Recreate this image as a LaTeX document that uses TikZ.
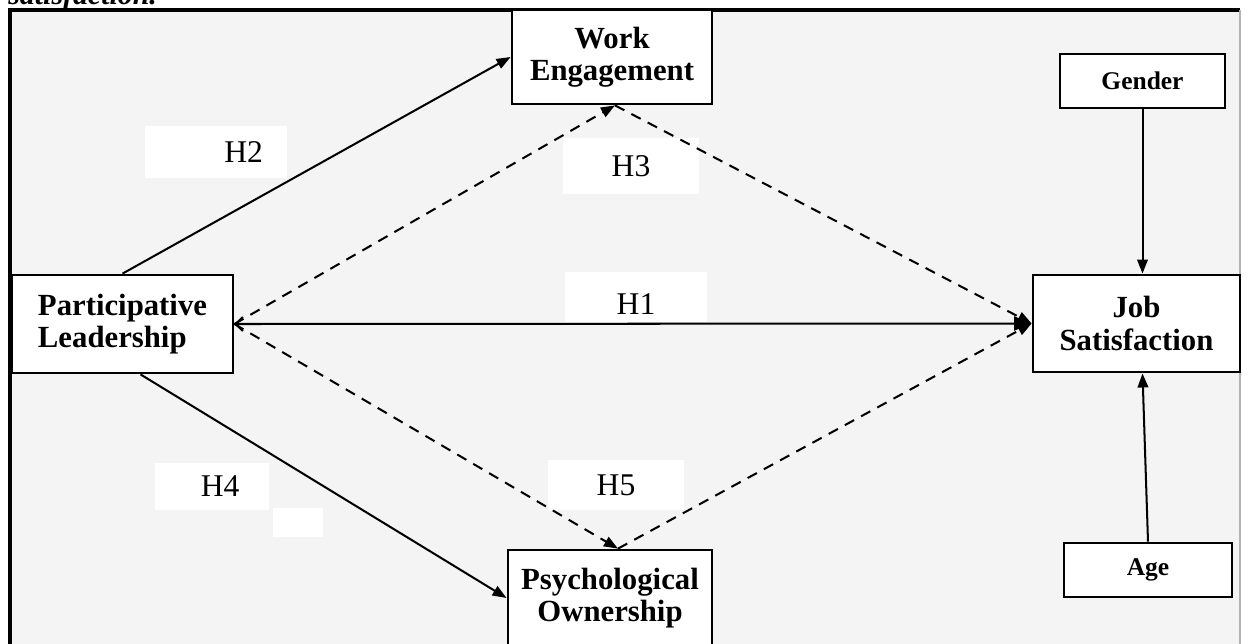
\documentclass[tikz,border=0pt]{standalone}
\usepackage{fontspec}
\setmainfont{Liberation Serif}
\usetikzlibrary{arrows.meta,positioning}
\definecolor{bggray}{HTML}{F4F4F4}

\begin{document}
\begin{tikzpicture}[x=0.02cm,y=-0.02cm,
  var/.style={draw,line width=1.6pt,fill=white,align=center,inner sep=0pt,
    font=\fontsize{17.5}{18.5}\selectfont\bfseries},
  ctrl/.style={draw,line width=1.6pt,fill=white,inner sep=0pt,minimum width=3.3cm,
    minimum height=1.08cm,font=\fontsize{14.5}{16}\selectfont\bfseries},
  hyp/.style={fill=white,inner sep=0pt,font=\fontsize{18}{20}\selectfont},
  arr/.style={line width=1.15pt,-{Triangle[length=8pt,width=6pt]}},
  darr/.style={arr,dash pattern=on 6pt off 4.5pt}]
\useasboundingbox (0,0) rectangle (1248,643);
\fill[white] (0,0) rectangle (1248,643);
\fill[bggray] (10,10) rectangle (1240,650);
\draw[line width=2.3pt] (10,650) -- (10,10) -- (1240,10);
\draw[gray!60,line width=0.6pt] (1240,10) -- (1240,650);
\node[anchor=base west,inner sep=0pt,font=\fontsize{17}{20}\selectfont\bfseries\itshape] (cap) at (8,4) {satisfaction.};
% hypothesis labels
\node[hyp,minimum height=1.04cm,text width=1.88cm,inner xsep=0.48cm,align=right] (h2) at (216,152) {H2};
\node[hyp,minimum width=2.74cm,minimum height=1.12cm] (h3) at (631,166) {H3};
\node[hyp,minimum width=2.86cm,minimum height=1cm,text height=0.7cm,text depth=0cm] (h1) at (636,297) {H1};
\node[hyp,minimum height=0.94cm,text width=1.1cm,inner xsep=0.6cm,align=right] (h4) at (212,486) {H4};
\node[hyp,minimum width=1cm,minimum height=0.58cm] (h4b) at (298,522) {};
\node[hyp,minimum width=2.74cm,minimum height=1cm] (h5) at (616,485) {H5};
% variables
\node[var,minimum width=4cm,minimum height=1.88cm] (engage) at (612,57) {Work\\Engagement};
\node[var,align=left,minimum width=4.42cm,minimum height=1.96cm] (lead) at (122.5,324) {Participative\\Leadership};
\node[var,minimum width=4.14cm,minimum height=1.94cm] (satis) at (1136.5,323.5) {Job\\Satisfaction};
\node[var,minimum width=4.08cm,minimum height=1.92cm] (owner) at (610,598) {Psychological\\Ownership};
\node[ctrl] (gender) at (1142.5,81) {Gender};
\node[ctrl,minimum width=3.36cm] (age) at (1148,570) {Age};
% paths
\draw[arr] (lead.north) -- (engage.west);
\draw[darr] (lead.east) -- ([xshift=0.06cm]engage.south);
\draw[darr] ([xshift=0.06cm]engage.south) -- (satis.west);
\draw[line width=1.15pt,{Straight Barb[length=4pt,width=8pt]}-{Triangle[length=10pt,width=8pt]}] (lead.east) -- (satis.west);
\draw[arr] ([xshift=0.36cm]lead.south) -- (owner.west);
\draw[darr] (lead.east) -- ([xshift=0.16cm]owner.north);
\draw[darr] ([xshift=0.16cm]owner.north) -- (satis.west);
\draw[arr] (gender.south) -- (gender.south |- satis.north);
\draw[arr] (age.north) -- ([xshift=0.12cm]satis.south);
\end{tikzpicture}
\end{document}
